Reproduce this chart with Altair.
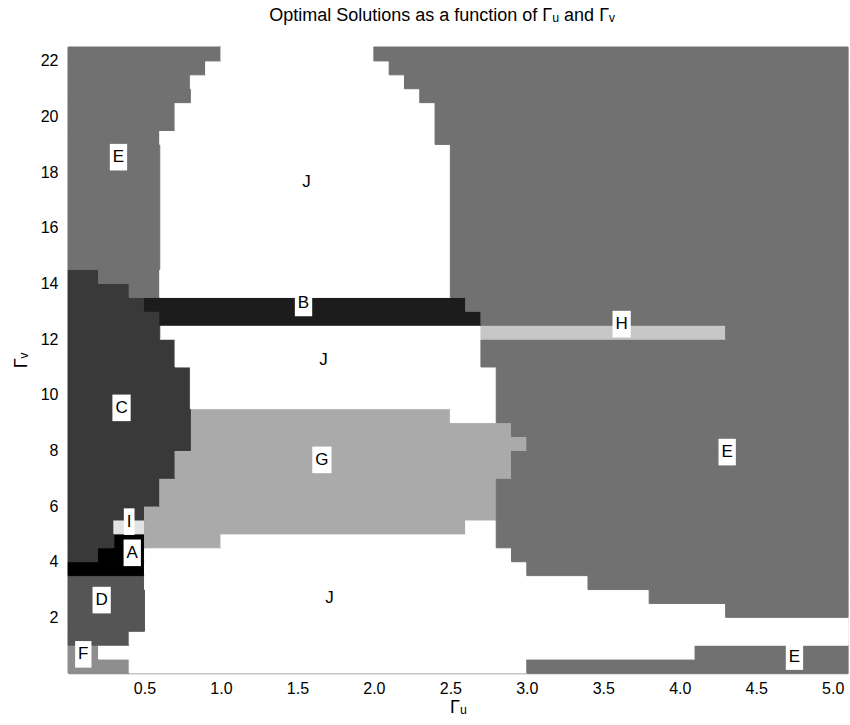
import altair as alt
import pandas as pd

# ---------------- data ----------------
GU_STEP = 0.1          # width of one grid cell along Γu
GV_STEP = 0.5          # height of one grid cell along Γv
GU_MAX = 5.1
GV_MAX = 22.5

REGIONS = ["A", "B", "C", "D", "E", "F", "G", "H", "I", "J"]
GRAYS = ["#000000", "#1c1c1c", "#393939", "#555555", "#717171",
         "#8e8e8e", "#aaaaaa", "#c6c6c6", "#e3e3e3", "#ffffff"]

# run-length rows of the solution map, from the top row (Γv 22.0-22.5) down
ROW_RUNS = [
    "E10 J10 E31",
    "E9 J12 E30",
    "E8 J14 E29",
    "E8 J15 E28",
    "E7 J17 E27",
    "E7 J17 E27",
    "E6 J18 E27",
    "E6 J19 E26",
    "E6 J19 E26",
    "E6 J19 E26",
    "E6 J19 E26",
    "E6 J19 E26",
    "E6 J19 E26",
    "E6 J19 E26",
    "E6 J19 E26",
    "E6 J19 E26",
    "C2 E4 J19 E26",
    "C4 E2 J19 E26",
    "C5 B21 E25",
    "C6 B21 E24",
    "C6 J21 H16 E8",
    "C7 J20 E24",
    "C7 J20 E24",
    "C8 J20 E23",
    "C8 J20 E23",
    "C8 J20 E23",
    "C8 G17 J3 E23",
    "C8 G21 E22",
    "C8 G22 E21",
    "C7 G22 E22",
    "C7 G22 E22",
    "C6 G22 E23",
    "C6 G22 E23",
    "C5 G23 E23",
    "C3 I2 G21 J2 E23",
    "C3 A2 G5 J18 E23",
    "C2 A3 J24 E22",
    "A5 J25 E21",
    "D5 J29 E17",
    "D5 J33 E13",
    "D5 J38 E8",
    "D5 J46",
    "D4 J47",
    "F2 J39 E10",
    "F4 J26 E21",
]

LABEL_TEXT = ["E", "J", "B", "J", "C", "G", "H", "E", "I", "A", "D", "J", "F", "E"]
LABEL_GU = [0.33, 1.56, 1.54, 1.67, 0.35, 1.66, 3.62, 4.31, 0.40, 0.42, 0.22, 1.71, 0.10, 4.75]
LABEL_GV = [18.54, 17.66, 13.30, 11.25, 9.53, 7.66, 12.54, 7.94, 5.44, 4.32, 2.62, 2.69, 0.67, 0.59]

X_TICKS = [0.5, 1.0, 1.5, 2.0, 2.5, 3.0, 3.5, 4.0, 4.5, 5.0]
Y_TICKS = [2, 4, 6, 8, 10, 12, 14, 16, 18, 20, 22]

TITLE = "Optimal Solutions as a function of Γᵤ and Γᵥ"

# ---------------- build tables ----------------
# expand runs into (region, first col, last col) per row index (0 = bottom)
n_rows = len(ROW_RUNS)
row_segments = {}
for t, row in enumerate(ROW_RUNS):
    r = n_rows - 1 - t
    c = 0
    segs = []
    for run in row.split():
        lab, n = run[0], int(run[1:])
        segs.append((lab, c, c + n))
        c += n
    row_segments[r] = segs

# merge identical segments in consecutive rows into taller rectangles
cells = []
open_blocks = {}
for r in range(n_rows):
    current = set(row_segments[r])
    new_open = {}
    for seg in row_segments[r]:
        if seg in open_blocks:
            new_open[seg] = open_blocks[seg]
        else:
            new_open[seg] = r
    for seg, r0 in open_blocks.items():
        if seg not in current:
            cells.append((seg, r0, r))
    open_blocks = new_open
for seg, r0 in open_blocks.items():
    cells.append((seg, r0, n_rows))

cells_df = pd.DataFrame([{
    "region": seg[0],
    "gu0": seg[1] * GU_STEP, "gu1": seg[2] * GU_STEP,
    "gv0": r0 * GV_STEP, "gv1": r1 * GV_STEP,
} for seg, r0, r1 in cells])

FS = 17
CHAR_EM = {"A": .667, "B": .667, "C": .722, "D": .722, "E": .667, "F": .611,
           "G": .778, "H": .722, "I": .278, "J": .5}


def box_path(ch):
    w = (FS * CHAR_EM[ch] + 6) / 2
    h = 13.3
    return f"M{-w:.2f},{-h}H{w:.2f}V{h}H{-w:.2f}Z"


labels_df = pd.DataFrame({
    "text": LABEL_TEXT, "gu": LABEL_GU, "gv": LABEL_GV,
    "box": [box_path(ch) for ch in LABEL_TEXT],
})

# ---------------- chart ----------------
xscale = alt.Scale(domain=[0, GU_MAX], nice=False, zero=False)
yscale = alt.Scale(domain=[0, GV_MAX], nice=False, zero=False)
cscale = alt.Scale(domain=REGIONS, range=GRAYS)

FONT = "Liberation Sans"

xaxis = alt.Axis(values=X_TICKS, format=".1f", title="Γᵤ", ticks=False, grid=False,
                 domainColor="#8a8a8a", domainWidth=1.5, labelFontSize=16, labelFont=FONT,
                 labelColor="#000000", labelPadding=7, titleFontSize=18, titleFont=FONT,
                 titleFontWeight="normal", titleColor="#000000", titlePadding=2)
yaxis = alt.Axis(values=Y_TICKS, title="Γᵥ", ticks=False, grid=False, domain=False,
                 labelFontSize=16, labelFont=FONT, labelColor="#000000", labelPadding=10,
                 titleFontSize=18, titleFont=FONT, titleFontWeight="normal",
                 titleColor="#000000", titlePadding=10)

cells_layer = alt.Chart(cells_df).mark_rect(strokeWidth=1).encode(
    x=alt.X("gu0:Q", scale=xscale, axis=xaxis),
    x2="gu1:Q",
    y=alt.Y("gv0:Q", scale=yscale, axis=yaxis),
    y2="gv1:Q",
    color=alt.Color("region:N", scale=cscale, legend=None),
    stroke=alt.Stroke("region:N", scale=cscale, legend=None),
)

box_layer = alt.Chart(labels_df).mark_point(filled=True, opacity=1, strokeWidth=0,
                                            color="#ffffff", size=4).encode(
    x=alt.X("gu:Q", scale=xscale),
    y=alt.Y("gv:Q", scale=yscale),
    shape=alt.Shape("box:N", scale=None, legend=None),
)

text_layer = alt.Chart(labels_df).mark_text(fontSize=FS, font=FONT, color="#000000",
                                            align="center", baseline="middle").encode(
    x=alt.X("gu:Q", scale=xscale),
    y=alt.Y("gv:Q", scale=yscale),
    text="text:N",
)

chart = alt.layer(cells_layer, box_layer, text_layer).properties(
    width=780, height=626,
    title=alt.TitleParams(TITLE, fontSize=18, font=FONT, fontWeight="normal",
                          color="#000000", anchor="middle", baseline="bottom", offset=4,
                          dx=-16),
    autosize=alt.AutoSizeParams(type="none"),
    padding={"left": 68, "top": 47, "right": 2, "bottom": 52},
).configure_view(stroke=None).configure(background="#ffffff")

chart.save("out.html", embed_options={"renderer": "svg", "actions": False})
